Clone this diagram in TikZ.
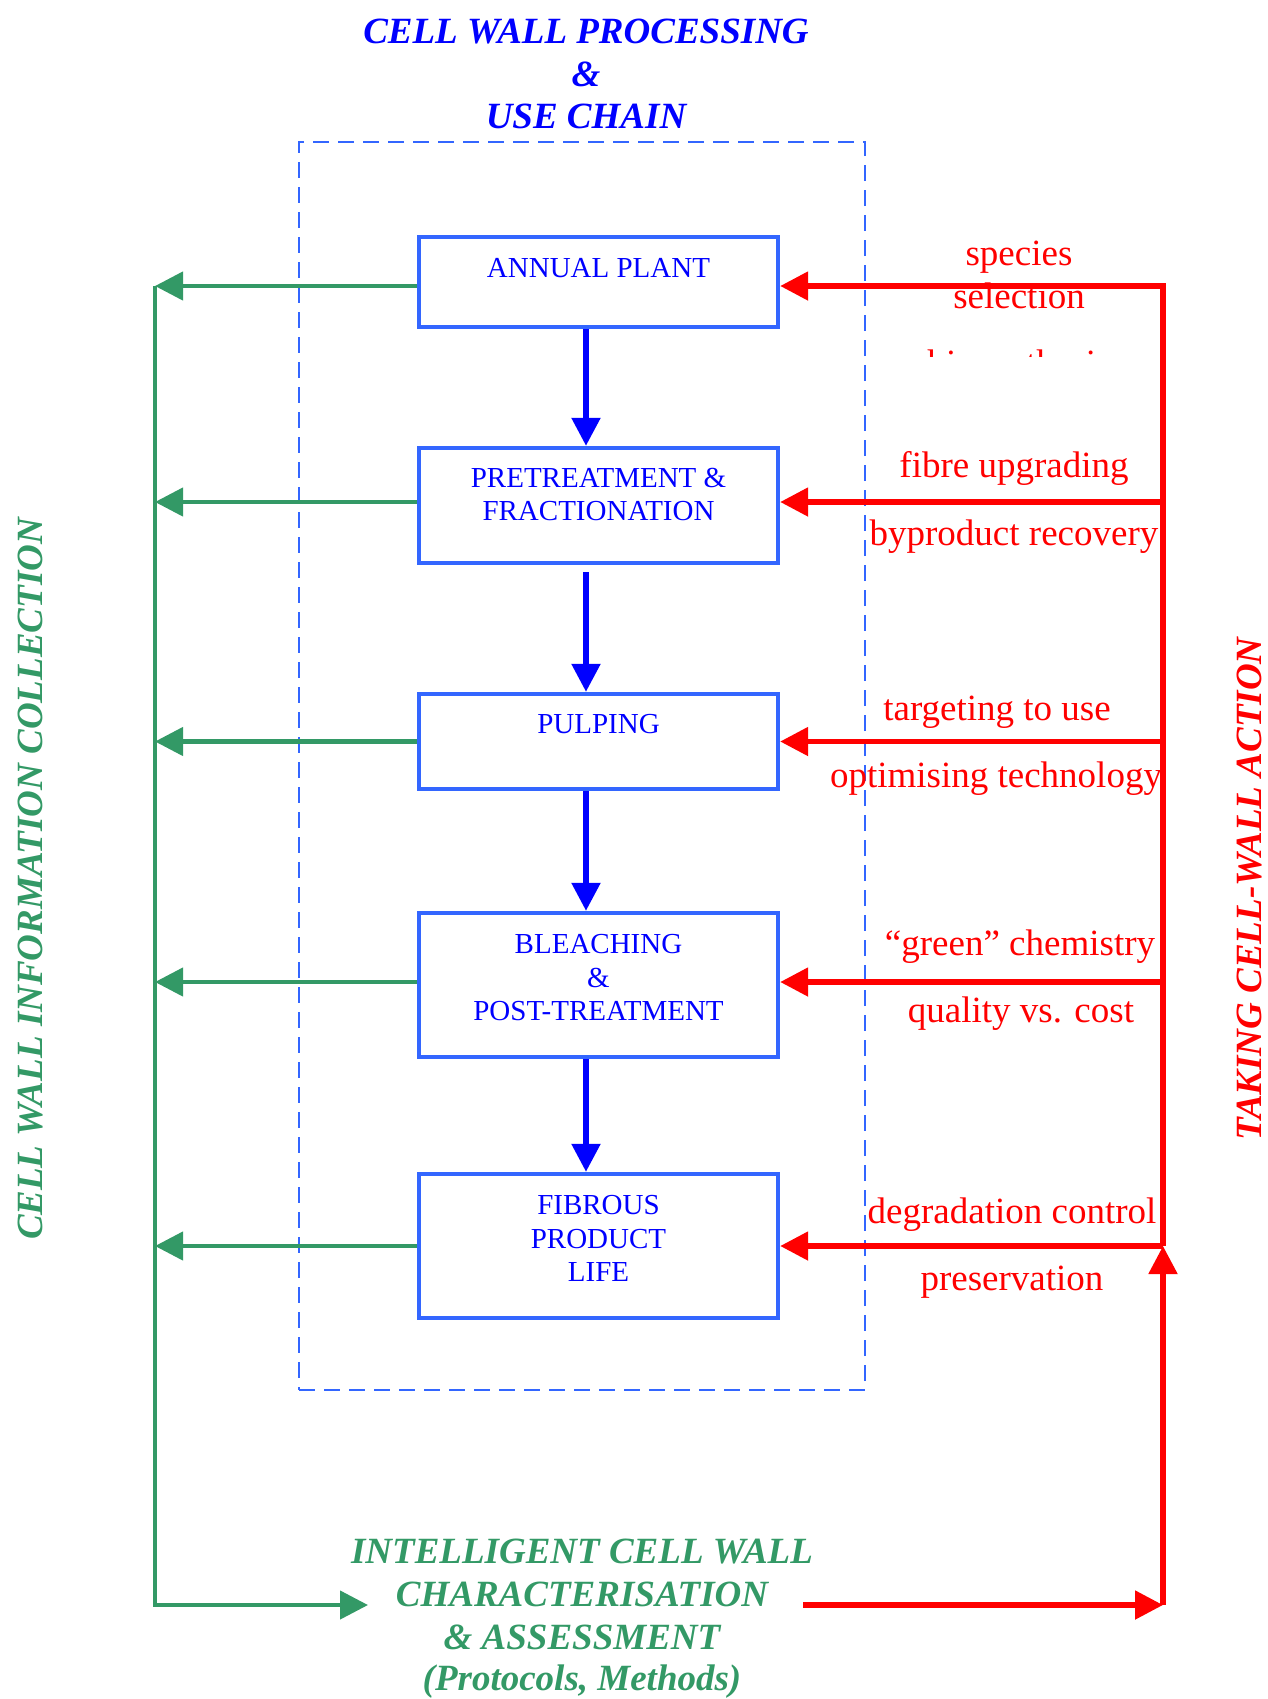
\documentclass[tikz,border=0pt]{standalone}
\usepackage{fontspec}
\setmainfont{Liberation Serif}
\usetikzlibrary{arrows.meta}
\definecolor{cwblue}{RGB}{0,0,255}
\definecolor{boxblue}{RGB}{51,102,255}
\definecolor{cwgreen}{RGB}{51,153,102}
\definecolor{cwred}{RGB}{255,0,0}
\tikzset{
  stagebox/.style={draw=boxblue, line width=2.2pt, minimum width=179.5pt, inner sep=0pt},
  boxtxt/.style={text=cwblue, font=\fontsize{14.5pt}{17pt}\selectfont, anchor=base, inner sep=0pt},
  redlbl/.style={text=cwred, font=\fontsize{18.5pt}{22pt}\selectfont, anchor=base, inner sep=0pt},
  bigital/.style={font=\fontsize{18.5pt}{22pt}\selectfont\bfseries\itshape, anchor=base, inner sep=0pt},
  flowarrow/.style={draw=cwblue, line width=2.7pt, -{Triangle[length=14pt,width=14pt]}},
  infoarrow/.style={draw=cwgreen, line width=2.2pt, -{Triangle[length=14pt,width=14pt]}},
  actarrow/.style={draw=cwred, line width=2.6pt, -{Triangle[length=14pt,width=14pt]}},
  actback/.style={draw=cwred, line width=2.6pt, {Triangle[length=14pt,width=14pt]}-},
  chainframe/.style={draw=boxblue, line width=1.4pt, dash pattern=on 8pt off 4.5pt, inner sep=0pt}
}
\begin{document}
\begin{tikzpicture}[x=0.5pt,y=-0.5pt]
\useasboundingbox (0,0) rectangle (1268,1699);

% dashed frame
\node[chainframe, minimum width=283pt, minimum height=624pt] (chain) at (582,766) {};

% title
\node[bigital, text=cwblue] (t1) at (586,43) {CELL WALL PROCESSING};
\node[bigital, text=cwblue] (t2) at (586,86) {\&};
\node[bigital, text=cwblue] (t3) at (586,128) {USE CHAIN};

% stage boxes
\node[stagebox, minimum height=45pt] (ap) at (598.5,282) {};
\node[stagebox, minimum height=57.5pt] (pf) at (598.5,505.5) {};
\node[stagebox, minimum height=47.5pt] (pu) at (598.5,741.5) {};
\node[stagebox, minimum height=72pt] (bl) at (598.5,985) {};
\node[stagebox, minimum height=72pt] (fp) at (598.5,1246) {};

\node[boxtxt] (apt) at (598.5,277) {ANNUAL PLANT};
\node[boxtxt] (pft1) at (598.5,487) {PRETREATMENT \&};
\node[boxtxt] (pft2) at (598.5,520) {FRACTIONATION};
\node[boxtxt] (put) at (598.5,733) {PULPING};
\node[boxtxt] (blt1) at (598.5,953) {BLEACHING};
\node[boxtxt] (blt2) at (598.5,987) {\&};
\node[boxtxt] (blt3) at (598.5,1020) {POST-TREATMENT};
\node[boxtxt] (fpt1) at (598.5,1214) {FIBROUS};
\node[boxtxt] (fpt2) at (598.5,1248) {PRODUCT};
\node[boxtxt] (fpt3) at (598.5,1281) {LIFE};

% helper coordinates
\coordinate (gx) at (155,0);
\coordinate (rx) at (1163,0);
\coordinate (bx) at (586,0);
\coordinate (gcorner) at (155,1605);
\coordinate (gend) at (368,1605);
\coordinate (rstart) at (803,1605);
\coordinate (rcorner) at (1163,1605);
% arrow levels at the boxes
\coordinate (apL) at ([yshift=-2pt]ap.west);
\coordinate (apR) at ([yshift=-2pt]ap.east);
\coordinate (pfL) at ([yshift=1.75pt]pf.west);
\coordinate (pfR) at ([yshift=1.75pt]pf.east);
\coordinate (puL) at (pu.west);
\coordinate (puR) at (pu.east);
\coordinate (blL) at ([yshift=1.5pt]bl.west);
\coordinate (blR) at ([yshift=1.5pt]bl.east);
\coordinate (fpL) at (fp.west);
\coordinate (fpR) at (fp.east);

% blue flow arrows
\draw[flowarrow] (ap.south -| bx) -- (pf.north -| bx);
\draw[flowarrow] ([yshift=-3.5pt]pf.south -| bx) -- (pu.north -| bx);
\draw[flowarrow] (pu.south -| bx) -- (bl.north -| bx);
\draw[flowarrow] (bl.south -| bx) -- (fp.north -| bx);

% green information arrows
\foreach \b in {ap,pf,pu,bl,fp} \draw[infoarrow] (\b L) -- (\b L -| gx);
\draw[infoarrow] (apL -| gx) -- (gcorner) -- (gend);

% red action arrows
\draw[actback] (apR) -- (apR -| rx) -- (fpR -| rx);
\foreach \b in {pf,pu,bl,fp} \draw[actarrow] (\b R -| rx) -- (\b R);
\draw[actarrow] (rstart) -- (rcorner);
\draw[actarrow] (rcorner) -- (fpR -| rx);

% red labels
\node[redlbl] (l1) at (1019,265) {species};
\node[redlbl] (l2) at (1019,308) {selection};
\begin{scope}
\clip (850,340) rectangle (1140,356);
\node[redlbl] (l3) at (1019,375) {biosynthesis};
\end{scope}
\node[redlbl] (l4) at (1014,477) {fibre upgrading};
\node[redlbl] (l5) at (1014,545) {byproduct recovery};
\node[redlbl] (l6) at (997,720) {targeting to use};
\node[redlbl] (l7) at (996,787) {optimising technology};
\node[redlbl] (l8) at (1020,955) {“green” chemistry};
\node[redlbl] (l9) at (1021,1022) {quality vs. cost};
\node[redlbl] (l10) at (1012,1223) {degradation control};
\node[redlbl] (l11) at (1012,1290) {preservation};

% bottom green title
\node[bigital, text=cwgreen] (b1) at (582,1563) {INTELLIGENT CELL WALL};
\node[bigital, text=cwgreen] (b2) at (582,1606) {CHARACTERISATION};
\node[bigital, text=cwgreen] (b3) at (582,1649) {\& ASSESSMENT};
\node[bigital, text=cwgreen] (b4) at (582,1690) {(Protocols, Methods)};

% side titles
\node[bigital, text=cwgreen, rotate=90] (side1) at (42,879) {CELL WALL INFORMATION COLLECTION};
\node[bigital, text=cwred, rotate=90] (side2) at (1261,889) {TAKING CELL-WALL ACTION};
\end{tikzpicture}
\end{document}
